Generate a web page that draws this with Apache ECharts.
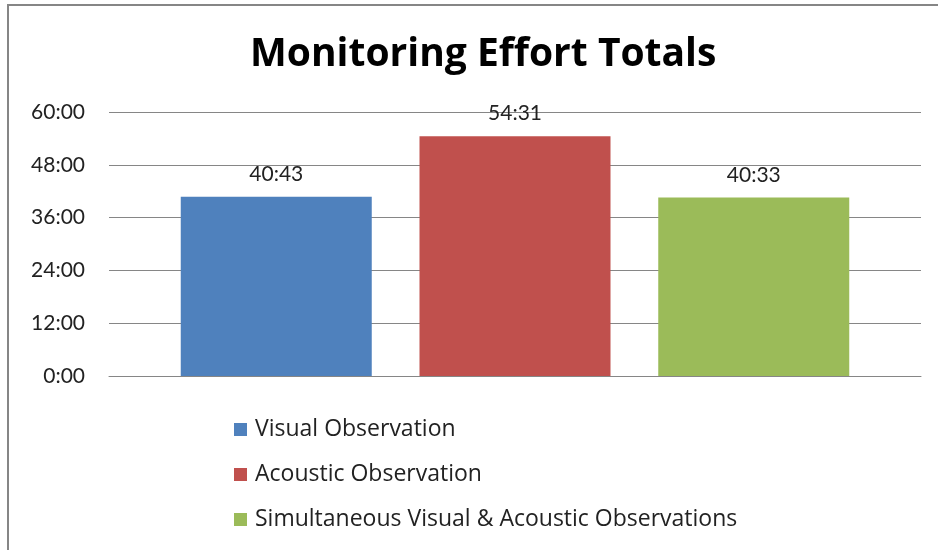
<!DOCTYPE html>
<html>
<head>
<meta charset="utf-8">
<script src="https://cdn.jsdelivr.net/npm/echarts@6/dist/echarts.min.js"></script>
<style>
  html, body { margin: 0; padding: 0; background: #fff; }
  #chart { width: 938px; height: 550px; }
</style>
</head>
<body>
<div id="chart"></div>
<script>
  // 数据
  var seriesNames = ['Visual Observation', 'Acoustic Observation', 'Simultaneous Visual & Acoustic Observations'];
  var totals = ['40:43', '54:31', '40:33'];   // hours:minutes
  var seriesColors = ['#4F81BD', '#C0504D', '#9BBB59'];
  var yTicks = ['0:00', '12:00', '24:00', '36:00', '48:00', '60:00'];

  function toHours(s) {
    var p = s.split(':');
    return Number(p[0]) + Number(p[1]) / 60;
  }
  function fmt(h) {
    var hh = Math.floor(h + 1e-9);
    var mm = Math.round((h - hh) * 60);
    return hh + ':' + (mm < 10 ? '0' + mm : mm);
  }

  var font = 'Lato, "Open Sans", sans-serif';
  var wideFont = '"Open Sans", Lato, sans-serif';
  var chart = echarts.init(document.getElementById('chart'));

  var series = seriesNames.map(function (name, i) {
    return {
      name: name,
      type: 'bar',
      barWidth: 191,
      barGap: '25%',
      itemStyle: { color: seriesColors[i] },
      label: {
        show: true,
        position: 'top',
        distance: 12,
        fontFamily: font,
        fontSize: 21,
        color: '#222',
        formatter: function () { return totals[i]; }
      },
      data: [toHours(totals[i])]
    };
  });

  chart.setOption({
    backgroundColor: '#fff',
    animation: false,
    title: {
      text: 'Monitoring Effort Totals',
      left: 245,
      top: 30,
      textStyle: { fontFamily: wideFont, fontWeight: 'bold', fontSize: 39, color: '#000' }
    },
    legend: {
      orient: 'vertical',
      left: 234,
      top: 418,
      padding: 0,
      itemWidth: 13,
      itemHeight: 13,
      itemGap: 22,
      icon: 'rect',
      data: seriesNames,
      textStyle: { fontFamily: wideFont, fontSize: 23, color: '#222', padding: [0, 0, 0, 3] }
    },
    grid: { left: 109, right: 17, top: 112, bottom: 174 },
    xAxis: {
      type: 'category',
      data: [''],
      axisLine: { lineStyle: { color: '#868686', width: 1 } },
      axisTick: { show: false },
      axisLabel: { show: false }
    },
    yAxis: {
      type: 'value',
      min: 0,
      max: toHours(yTicks[yTicks.length - 1]),
      interval: toHours(yTicks[1]),
      axisLine: { show: false },
      axisTick: { show: false },
      splitLine: { lineStyle: { color: '#868686', width: 1 } },
      axisLabel: {
        margin: 24,
        fontFamily: font,
        fontSize: 21,
        color: '#222',
        formatter: function (v) { return fmt(v); }
      }
    },
    graphic: [{
      type: 'rect',
      shape: { x: 8, y: 5, width: 1000, height: 600 },
      style: { fill: null, stroke: '#868686', lineWidth: 2 },
      silent: true
    }],
    series: series
  });
</script>
</body>
</html>
